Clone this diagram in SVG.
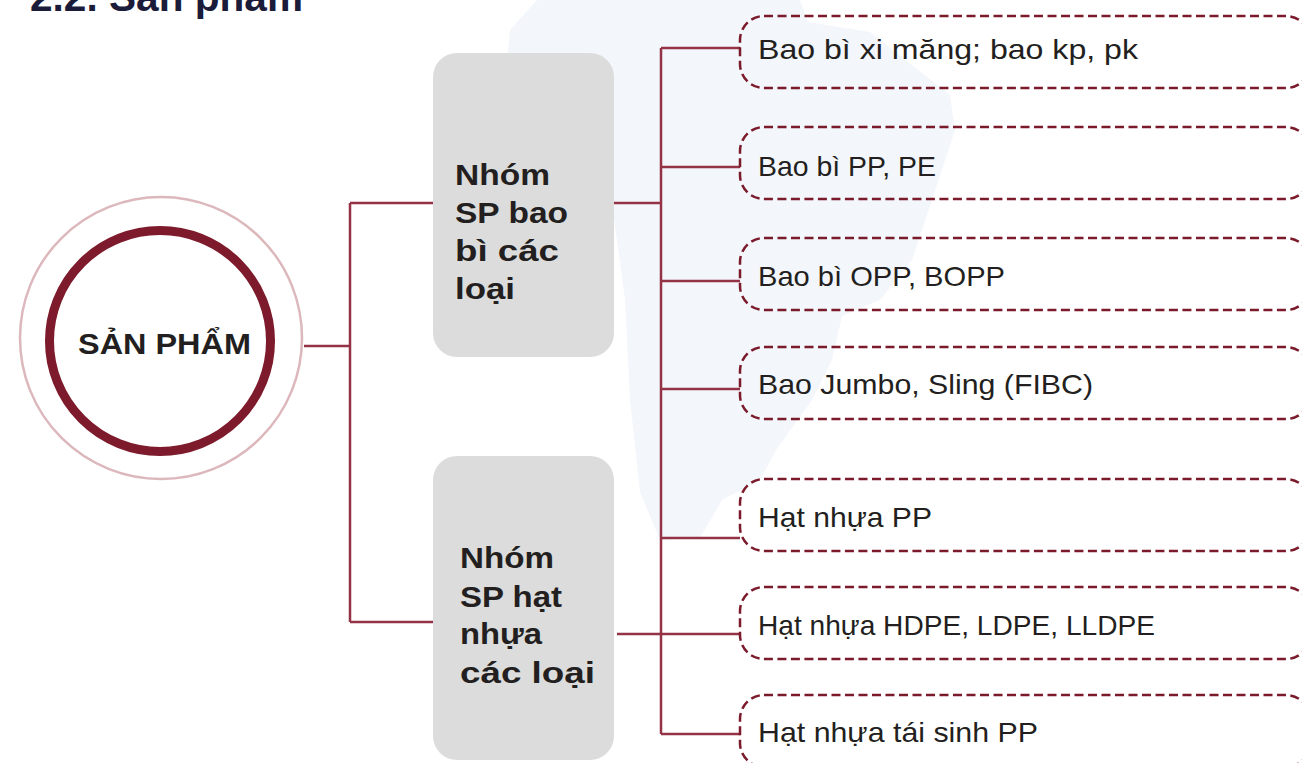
<svg xmlns="http://www.w3.org/2000/svg" width="1302" height="763" viewBox="0 0 1302 763">
<style>
.title{font-family:"Liberation Sans",Arial,sans-serif;font-weight:bold;font-size:40px;fill:#1b1b3a}
.grp{font-family:"Liberation Sans",Arial,sans-serif;font-weight:bold;font-size:30px;fill:#231f20}
.item{font-family:"Liberation Sans",Arial,sans-serif;font-size:28px;fill:#231f20}
.conn{stroke:#943346;stroke-width:2.5;fill:none}
.gbox{fill:#dcdcdc}
.dbox{fill:none;stroke:#7a1a2a;stroke-width:2.5;stroke-dasharray:9 4.5}
</style>
<rect width="1302" height="763" fill="#ffffff"/>
<path d="M537,0 L800,0 L808,22 L870,32 L950,95 L955,130 L932,200 L912,260 L880,300 L842,316 L832,360 L812,400 L776,450 L760,480 L722,500 L700,538 L660,540 L640,492 L630,400 L625,300 L614,218 L560,150 L507,60 L510,30 Z" fill="#f3f6fb"/>
<text class="title" x="30" y="11" textLength="273" lengthAdjust="spacingAndGlyphs">2.2. Sản phẩm</text>
<g id="connectors">
<path class="conn" d="M304,346 H350 M350,203 V622 M350,203 H433 M350,622 H433"/>
<path class="conn" d="M614,203 H661 M617,634 H740 M661,48 V734"/>
<path class="conn" d="M661,48 H740 M661,167 H740 M661,281 H740 M661,389 H740 M661,538 H740 M661,734 H740"/>
</g>
<g id="node-sanpham">
<circle cx="161" cy="338" r="141" fill="#ffffff" stroke="#dcb8bd" stroke-width="2.5"/>
<circle cx="160" cy="341" r="110.5" fill="#ffffff" stroke="#7d1a2b" stroke-width="9"/>
<text class="grp" x="78" y="354" textLength="173" lengthAdjust="spacingAndGlyphs">SẢN PHẨM</text>
</g>
<g id="node-baobi">
<rect class="gbox" x="433" y="53" width="181" height="304" rx="24"/>
<text class="grp" x="455" y="185" textLength="95" lengthAdjust="spacingAndGlyphs">Nhóm</text>
<text class="grp" x="455" y="223" textLength="113" lengthAdjust="spacingAndGlyphs">SP bao</text>
<text class="grp" x="455" y="261" textLength="104" lengthAdjust="spacingAndGlyphs">bì các</text>
<text class="grp" x="455" y="299" textLength="60" lengthAdjust="spacingAndGlyphs">loại</text>
</g>
<g id="node-hatnhua">
<rect class="gbox" x="433" y="456" width="181" height="304" rx="24"/>
<text class="grp" x="460" y="568" textLength="94" lengthAdjust="spacingAndGlyphs">Nhóm</text>
<text class="grp" x="460" y="607" textLength="102" lengthAdjust="spacingAndGlyphs">SP hạt</text>
<text class="grp" x="460" y="644" textLength="82" lengthAdjust="spacingAndGlyphs">nhựa</text>
<text class="grp" x="460" y="683" textLength="135" lengthAdjust="spacingAndGlyphs">các loại</text>
</g>
<g id="item-1">
<rect class="dbox" x="740" y="16" width="570" height="72" rx="24"/>
<text class="item" x="758" y="59" textLength="380" lengthAdjust="spacingAndGlyphs">Bao bì xi măng; bao kp, pk</text>
</g>
<g id="item-2">
<rect class="dbox" x="740" y="127" width="570" height="72" rx="24"/>
<text class="item" x="758" y="176" textLength="178" lengthAdjust="spacingAndGlyphs">Bao bì PP, PE</text>
</g>
<g id="item-3">
<rect class="dbox" x="740" y="238" width="570" height="72" rx="24"/>
<text class="item" x="758" y="286" textLength="247" lengthAdjust="spacingAndGlyphs">Bao bì OPP, BOPP</text>
</g>
<g id="item-4">
<rect class="dbox" x="740" y="347" width="570" height="72" rx="24"/>
<text class="item" x="758" y="394" textLength="335" lengthAdjust="spacingAndGlyphs">Bao Jumbo, Sling (FIBC)</text>
</g>
<g id="item-5">
<rect class="dbox" x="740" y="479" width="570" height="72" rx="24"/>
<text class="item" x="758" y="527" textLength="174" lengthAdjust="spacingAndGlyphs">Hạt nhựa PP</text>
</g>
<g id="item-6">
<rect class="dbox" x="740" y="587" width="570" height="72" rx="24"/>
<text class="item" x="758" y="635" textLength="397" lengthAdjust="spacingAndGlyphs">Hạt nhựa HDPE, LDPE, LLDPE</text>
</g>
<g id="item-7">
<rect class="dbox" x="740" y="695" width="570" height="72" rx="24"/>
<text class="item" x="758" y="742" textLength="280" lengthAdjust="spacingAndGlyphs">Hạt nhựa tái sinh PP</text>
</g>
</svg>
